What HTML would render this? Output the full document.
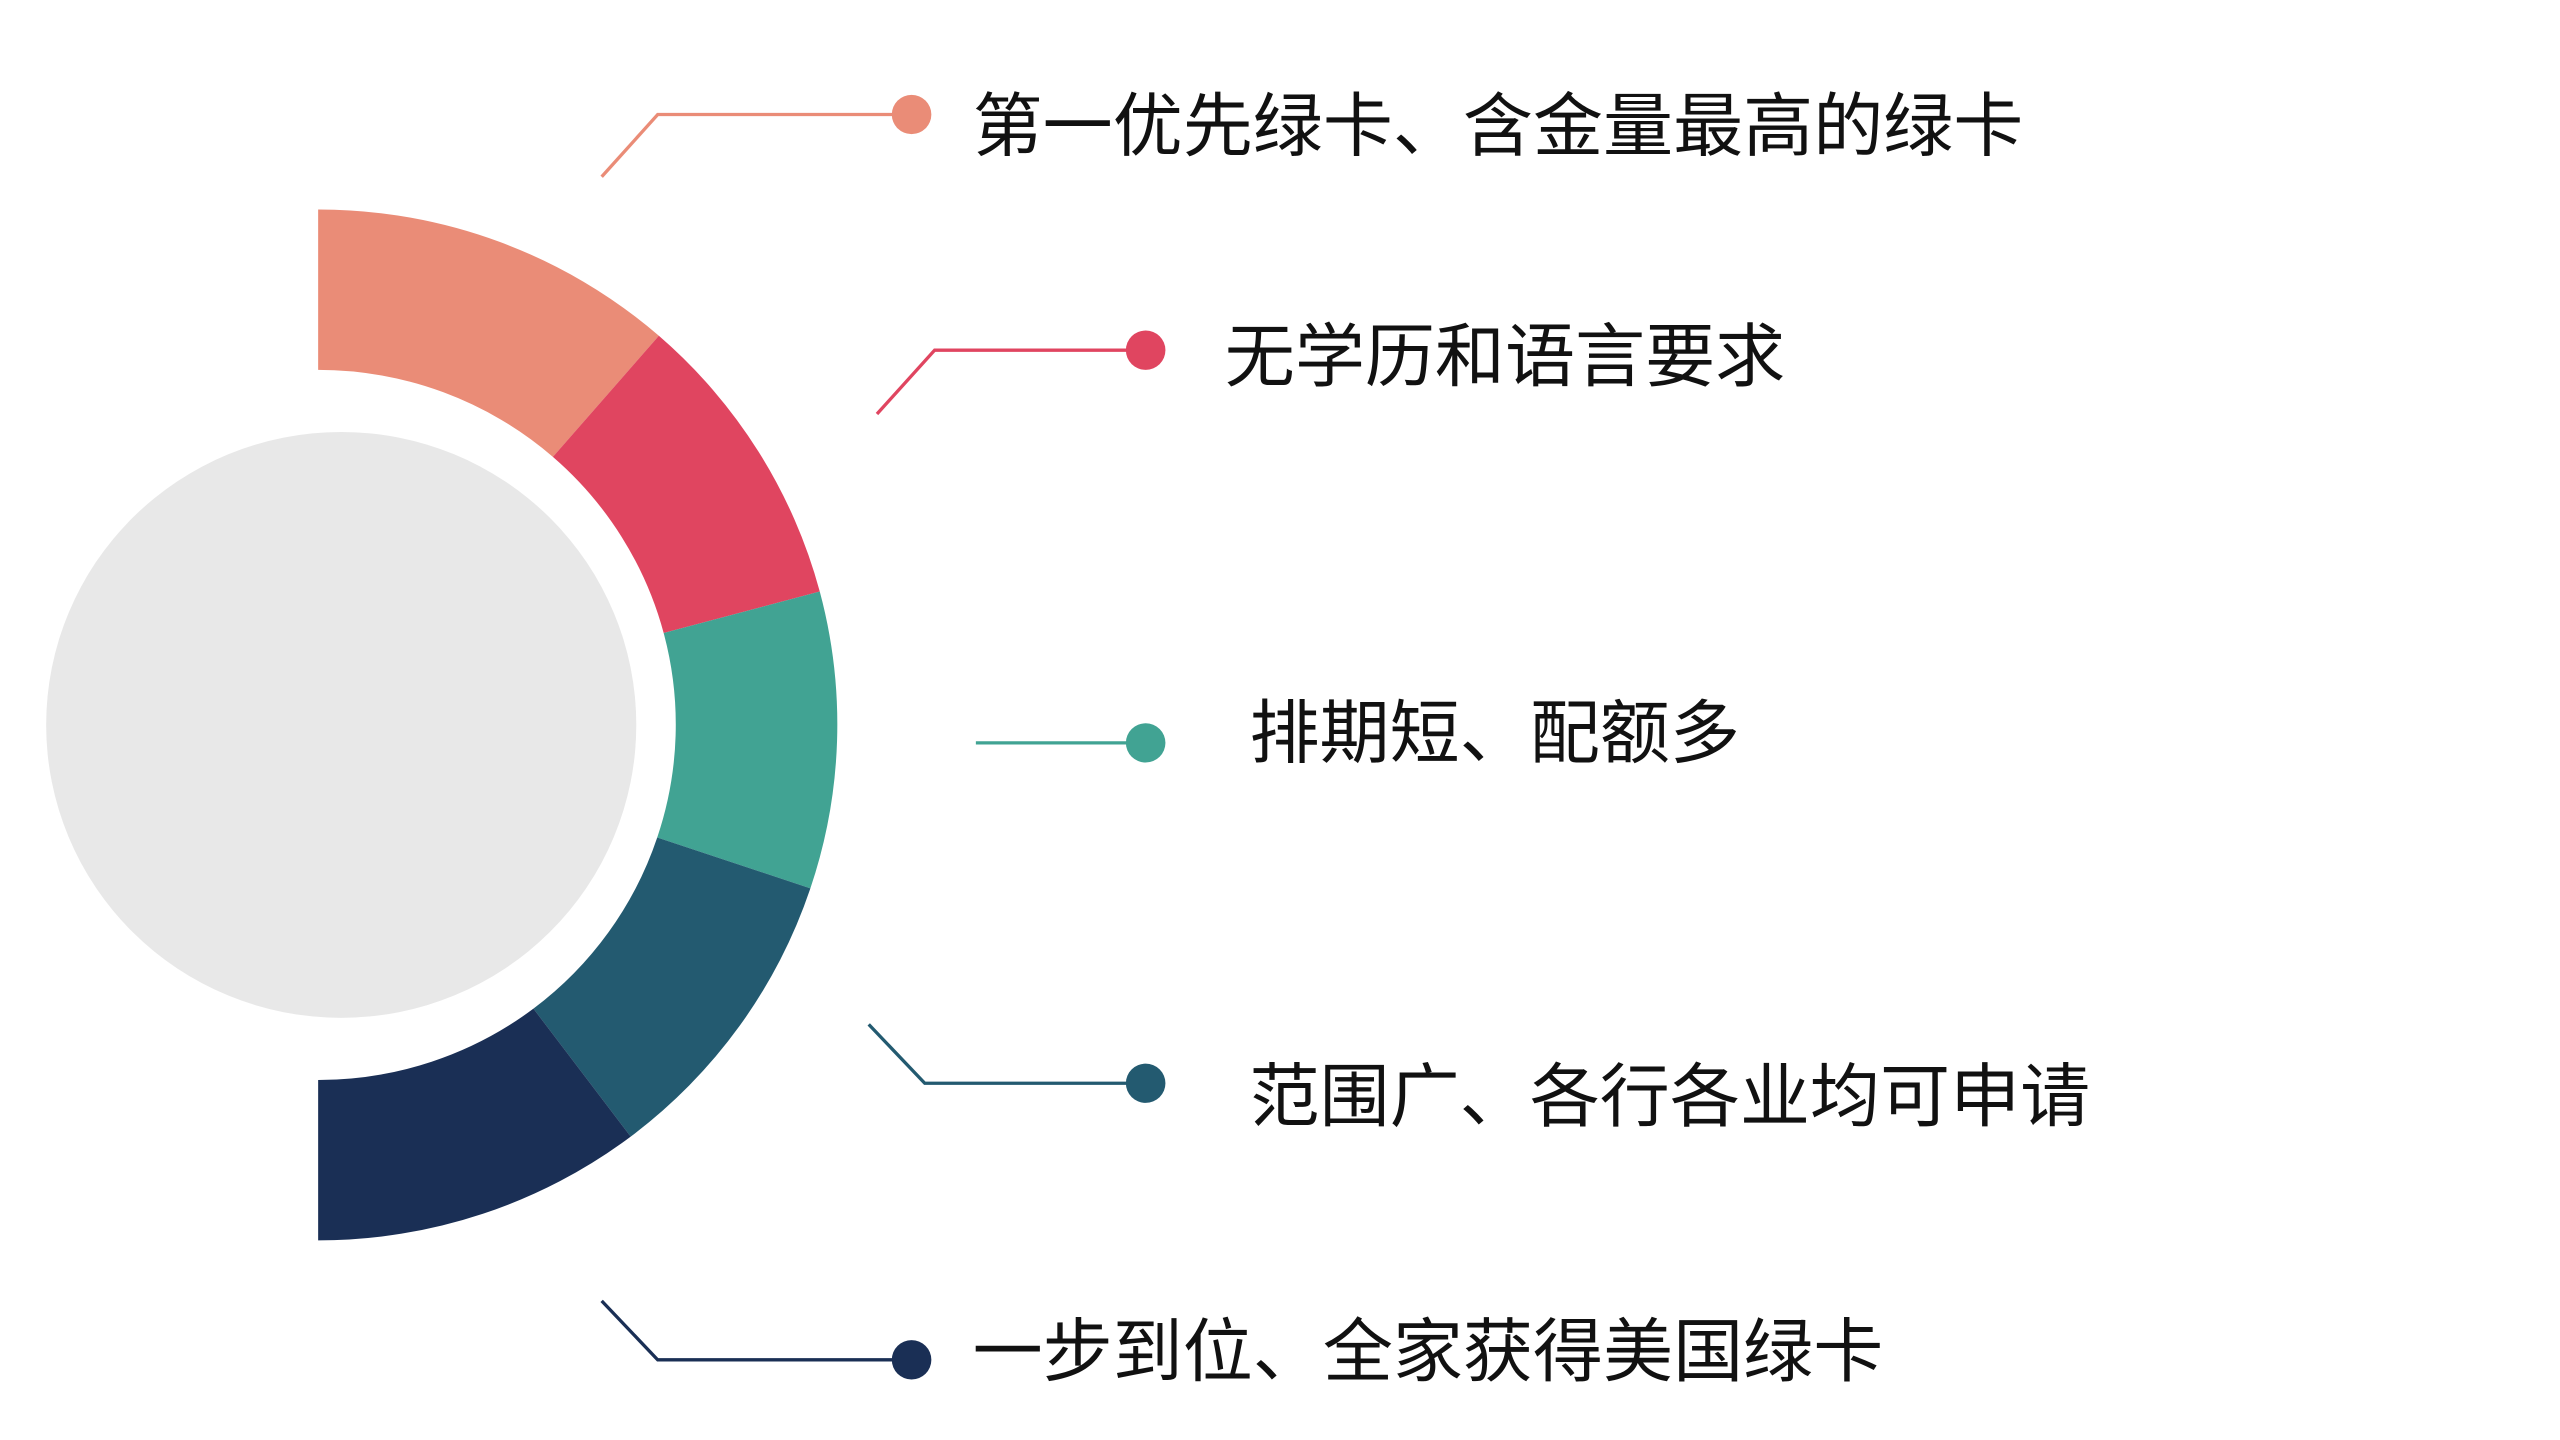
<!DOCTYPE html>
<html><head><meta charset="utf-8"><style>
html,body{margin:0;padding:0;background:#fff;}
svg{display:block;}
text{font-family:"Liberation Sans","Noto Sans CJK SC",sans-serif;font-size:42.5px;fill:#111;dominant-baseline:central;}
</style></head><body>
<svg width="2560" height="1440" viewBox="0 0 1553 880" preserveAspectRatio="none" xmlns="http://www.w3.org/2000/svg">
<rect width="1553" height="880" fill="#fff"/>
<circle cx="207" cy="443" r="179" fill="#e8e8e8"/>
<path d="M193,128 A315,315 0 0 1 399.7,205.2 L335.4,279.2 A217,217 0 0 0 193,226 Z" fill="#ea8c77"/>
<path d="M399.7,205.2 A315,315 0 0 1 497.3,361.5 L402.6,386.8 A217,217 0 0 0 335.4,279.2 Z" fill="#e04560"/>
<path d="M497.3,361.5 A315,315 0 0 1 491.6,542.9 L398.7,511.8 A217,217 0 0 0 402.6,386.8 Z" fill="#41a393"/>
<path d="M491.6,542.9 A315,315 0 0 1 382.6,694.6 L323.6,616.4 A217,217 0 0 0 398.7,511.8 Z" fill="#235a70"/>
<path d="M382.6,694.6 A315,315 0 0 1 193,758 L193,660 A217,217 0 0 0 323.6,616.4 Z" fill="#1a2f55"/>
<g fill="none" stroke-width="2">
<polyline points="365,108 399,70 553,70" stroke="#ea8c77"/>
<polyline points="532,253 567,214 695,214" stroke="#e04560"/>
<polyline points="592,454 695,454" stroke="#41a393"/>
<polyline points="527,626 561,662 695,662" stroke="#235a70"/>
<polyline points="365,795 399,831 553,831" stroke="#1a2f55"/>
</g>
<circle cx="553" cy="70" r="12" fill="#ea8c77"/>
<circle cx="695" cy="214" r="12" fill="#e04560"/>
<circle cx="695" cy="454" r="12" fill="#41a393"/>
<circle cx="695" cy="662" r="12" fill="#235a70"/>
<circle cx="553" cy="831" r="12" fill="#1a2f55"/>
<text x="590" y="77">第一优先绿卡、含金量最高的绿卡</text>
<text x="743" y="218">无学历和语言要求</text>
<text x="758" y="448">排期短、配额多</text>
<text x="758" y="670">范围广、各行各业均可申请</text>
<text x="590" y="826">一步到位、全家获得美国绿卡</text>
</svg>
</body></html>
